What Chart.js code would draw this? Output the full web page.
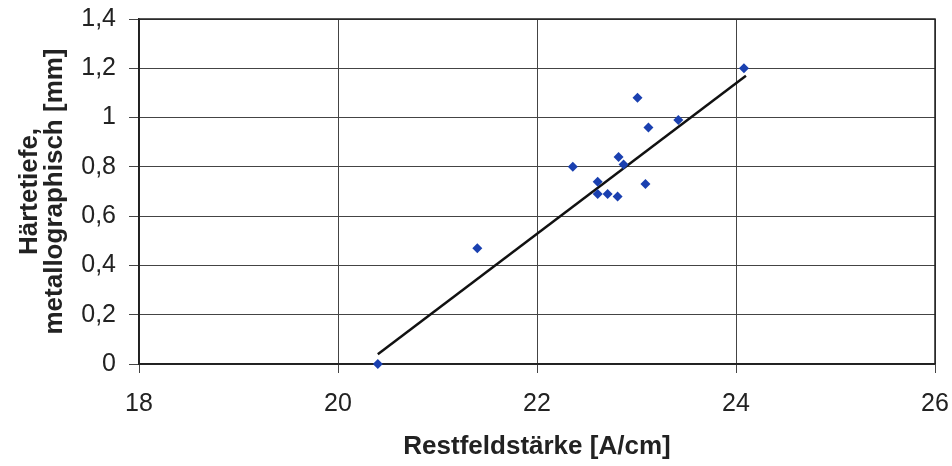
<!DOCTYPE html>
<html>
<head>
<meta charset="utf-8">
<script src="https://cdn.jsdelivr.net/npm/chart.js@4.4.1/dist/chart.umd.min.js"></script>
<style>
  html, body { margin: 0; padding: 0; background: #fff; }
  #wrap { width: 952px; height: 466px; }
</style>
</head>
<body>
<div id="wrap"><canvas id="chart" width="952" height="466"></canvas></div>
<script>
// Restfeldstärke [A/cm] vs. Härtetiefe [mm]
const fieldStrength = [20.4, 21.4, 22.36, 22.61, 22.61, 22.71, 22.81, 22.82, 22.87, 23.01, 23.09, 23.12, 23.42, 24.08];
const hardnessDepth = [0.0, 0.47, 0.80, 0.74, 0.69, 0.69, 0.68, 0.84, 0.81, 1.08, 0.73, 0.96, 0.99, 1.20];

const trendX = [20.4, 24.1];
const trendY = [0.04, 1.17];

const xTicks = [18, 20, 22, 24, 26];
const yTicks = [0, 0.2, 0.4, 0.6, 0.8, 1, 1.2, 1.4];

const fmt = v => String(Math.round(v * 10) / 10).replace('.', ',');
const FONT = 'Liberation Sans, Arial, sans-serif';

const ctx = document.getElementById('chart');
new Chart(ctx, {
  type: 'scatter',
  data: {
    datasets: [
      {
        label: 'Messwerte',
        data: fieldStrength.map((x, i) => ({ x, y: hardnessDepth[i] })),
        pointStyle: 'rectRot',
        pointRadius: 5,
        backgroundColor: '#1a40b0',
        borderColor: '#1a40b0',
        borderWidth: 0,
        clip: false,
        order: 1
      },
      {
        label: 'Trend',
        type: 'line',
        data: trendX.map((x, i) => ({ x, y: trendY[i] })),
        borderColor: '#111',
        borderWidth: 2.5,
        pointRadius: 0,
        fill: false,
        order: 2
      }
    ]
  },
  options: {
    responsive: false,
    animation: false,
    layout: { padding: { top: 19, right: 17, left: 0, bottom: 0 } },
    plugins: {
      legend: { display: false },
      tooltip: { enabled: false }
    },
    scales: {
      x: {
        type: 'linear',
        min: 18,
        max: 26,
        afterBuildTicks: s => { s.ticks = xTicks.map(v => ({ value: v })); },
        afterFit: s => { s.height = 102; s.paddingLeft = 0; s.paddingRight = 0; },
        grid: { color: '#444', lineWidth: 1, tickLength: 9 },
        border: { color: '#222', width: 1.5 },
        ticks: {
          color: '#222',
          padding: 16,
          font: { family: FONT, size: 25 },
          maxRotation: 0
        },
        title: {
          display: true,
          text: 'Restfeldstärke [A/cm]',
          color: '#222',
          padding: { top: 0, bottom: 4 },
          font: { family: FONT, size: 26, weight: 'bold' }
        }
      },
      y: {
        type: 'linear',
        min: 0,
        max: 1.4,
        afterBuildTicks: s => { s.ticks = yTicks.map(v => ({ value: v })); },
        afterFit: s => { s.width = 139; s.paddingTop = 0; s.paddingBottom = 0; },
        grid: { color: '#444', lineWidth: 1, tickLength: 10 },
        border: { color: '#222', width: 1.5 },
        ticks: {
          color: '#222',
          padding: 13,
          callback: v => fmt(v),
          font: { family: FONT, size: 25 }
        },
        title: {
          display: true,
          text: ['Härtetiefe,', 'metallographisch [mm]'],
          color: '#222',
          padding: { top: 17, bottom: 0 },
          font: { family: FONT, size: 26, weight: 'bold', lineHeight: 0.98 }
        }
      }
    }
  },
  plugins: [{
    id: 'frame',
    beforeDatasetsDraw(chart) {
      const a = chart.chartArea, c = chart.ctx;
      c.save();
      c.strokeStyle = '#222';
      c.lineWidth = 1.5;
      c.strokeRect(a.left, a.top, a.right - a.left, a.bottom - a.top);
      c.restore();
    }
  }]
});
</script>
</body>
</html>
